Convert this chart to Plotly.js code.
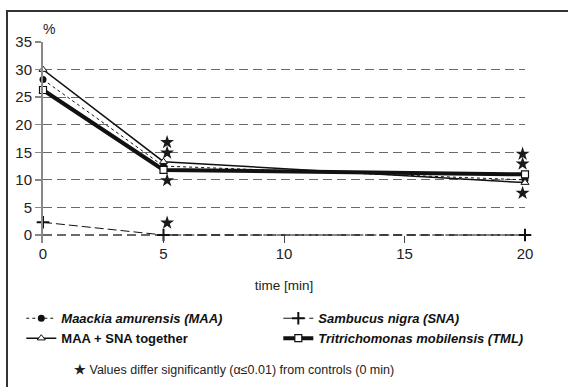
<!DOCTYPE html>
<html><head><meta charset="utf-8">
<script src="https://cdn.plot.ly/plotly-3.0.1.min.js"></script>
<style>
html,body{margin:0;padding:0;background:#fff;}
#wrap{position:relative;width:568px;height:387px;overflow:hidden;}
#chart{position:absolute;left:0;top:0;width:568px;height:387px;}
#frameL{position:absolute;left:6px;top:10px;width:2px;height:380px;background:#333;}
#frameT{position:absolute;left:6px;top:10px;width:562px;height:2px;background:#333;}
</style></head>
<body><div id="wrap"><div id="chart"></div><div id="frameL"></div><div id="frameT"></div></div>
<script>
const time = [0, 5, 20];
const maa = [28.2, 12.5, 10.0];
const sna = [2.3, 0, 0];
const maaSna = [30.0, 13.3, 9.5];
const tml = [26.3, 11.8, 11.0];
const starX = [5.15, 5.15, 5.15, 5.15, 19.9, 19.9, 19.9];
const starY = [16.8, 14.9, 9.9, 2.2, 14.7, 12.9, 7.6];
const xTicks = [0, 5, 10, 15, 20];
const yTicks = [0, 5, 10, 15, 20, 25, 30, 35];
const names = ['<b><i>Maackia amurensis (MAA)</i></b>', '<b><i>Sambucus nigra (SNA)</i></b>',
               '<b>MAA + SNA together</b>', '<b><i>Tritrichomonas mobilensis (TML)</i></b>'];

const FONT = 'Liberation Sans, Arial, Helvetica, sans-serif';
const traces = [
  {x: time, y: maa, name: names[0], mode: 'lines+markers', cliponaxis: false,
   line: {color: '#111', width: 1, dash: 'dot'},
   marker: {symbol: 'circle', size: 7, color: '#111'}},
  {x: time, y: sna, name: names[1], mode: 'lines+markers', cliponaxis: false,
   line: {color: '#111', width: 1, dash: '9px,4px'},
   marker: {symbol: 'cross-thin', size: 9, color: '#111', line: {color: '#111', width: 2}}},
  {x: time, y: maaSna, name: names[2], mode: 'lines+markers', cliponaxis: false,
   line: {color: '#111', width: 1.5},
   marker: {symbol: 'triangle-up', size: 7, color: '#fff', line: {color: '#111', width: 1}}},
  {x: time, y: tml, name: names[3], mode: 'lines+markers', cliponaxis: false,
   line: {color: '#111', width: 4},
   marker: {symbol: 'square', size: 7, color: '#fff', line: {color: '#111', width: 1.2}}},
  {x: starX, y: starY, mode: 'markers', showlegend: false, cliponaxis: false, hoverinfo: 'skip',
   marker: {symbol: 'star', size: 10.5, color: '#1a1a1a', line: {width: 0}}}
];

const annotations = [];
annotations.push({xref: 'paper', yref: 'paper', x: 0, y: 1, xanchor: 'center', yanchor: 'bottom',
  xshift: 6, yshift: 3, text: '%', showarrow: false, font: {family: FONT, size: 14, color: '#222'}});
annotations.push({xref: 'paper', yref: 'paper', x: 0.06, y: -0.63, xanchor: 'left', yanchor: 'middle',
  text: '<b>★</b> Values differ significantly (α≤0.01) from controls (0 min)', showarrow: false,
  font: {family: FONT, size: 12.5, color: '#222'}});

const layout = {
  width: 568, height: 387,
  margin: {l: 43, r: 43, t: 42, b: 144},
  paper_bgcolor: '#fff', plot_bgcolor: '#fff',
  showlegend: true,
  font: {family: FONT, color: '#222'},
  xaxis: {range: [0, 20], tickvals: xTicks, ticktext: xTicks.map(String),
    showgrid: false, zeroline: false, showline: false,
    ticks: 'inside', ticklen: 7, tickcolor: '#444', tickwidth: 1,
    tickfont: {family: FONT, size: 15, color: '#222'},
    title: {text: 'time [min]', font: {family: FONT, size: 13.5, color: '#222'}, standoff: 19}},
  yaxis: {range: [-1.45, 35], tickvals: yTicks, ticktext: yTicks.map(String),
    showgrid: true, gridcolor: '#6a6a6a', gridwidth: 1.2, griddash: '9px,5px',
    zeroline: false, showline: true, linecolor: '#888', linewidth: 2,
    ticks: 'outside', ticklen: 6, tickcolor: '#888', tickwidth: 1.5,
    tickfont: {family: FONT, size: 15, color: '#222'}},
  legend: {orientation: 'h', x: -0.045, y: -0.3, xanchor: 'left', yanchor: 'top',
    entrywidth: 212, font: {family: FONT, size: 13, color: '#111'},
    itemwidth: 30, tracegroupgap: 0},
  annotations: annotations
};
Plotly.newPlot('chart', traces, layout, {displayModeBar: false, staticPlot: true});
</script></body></html>
